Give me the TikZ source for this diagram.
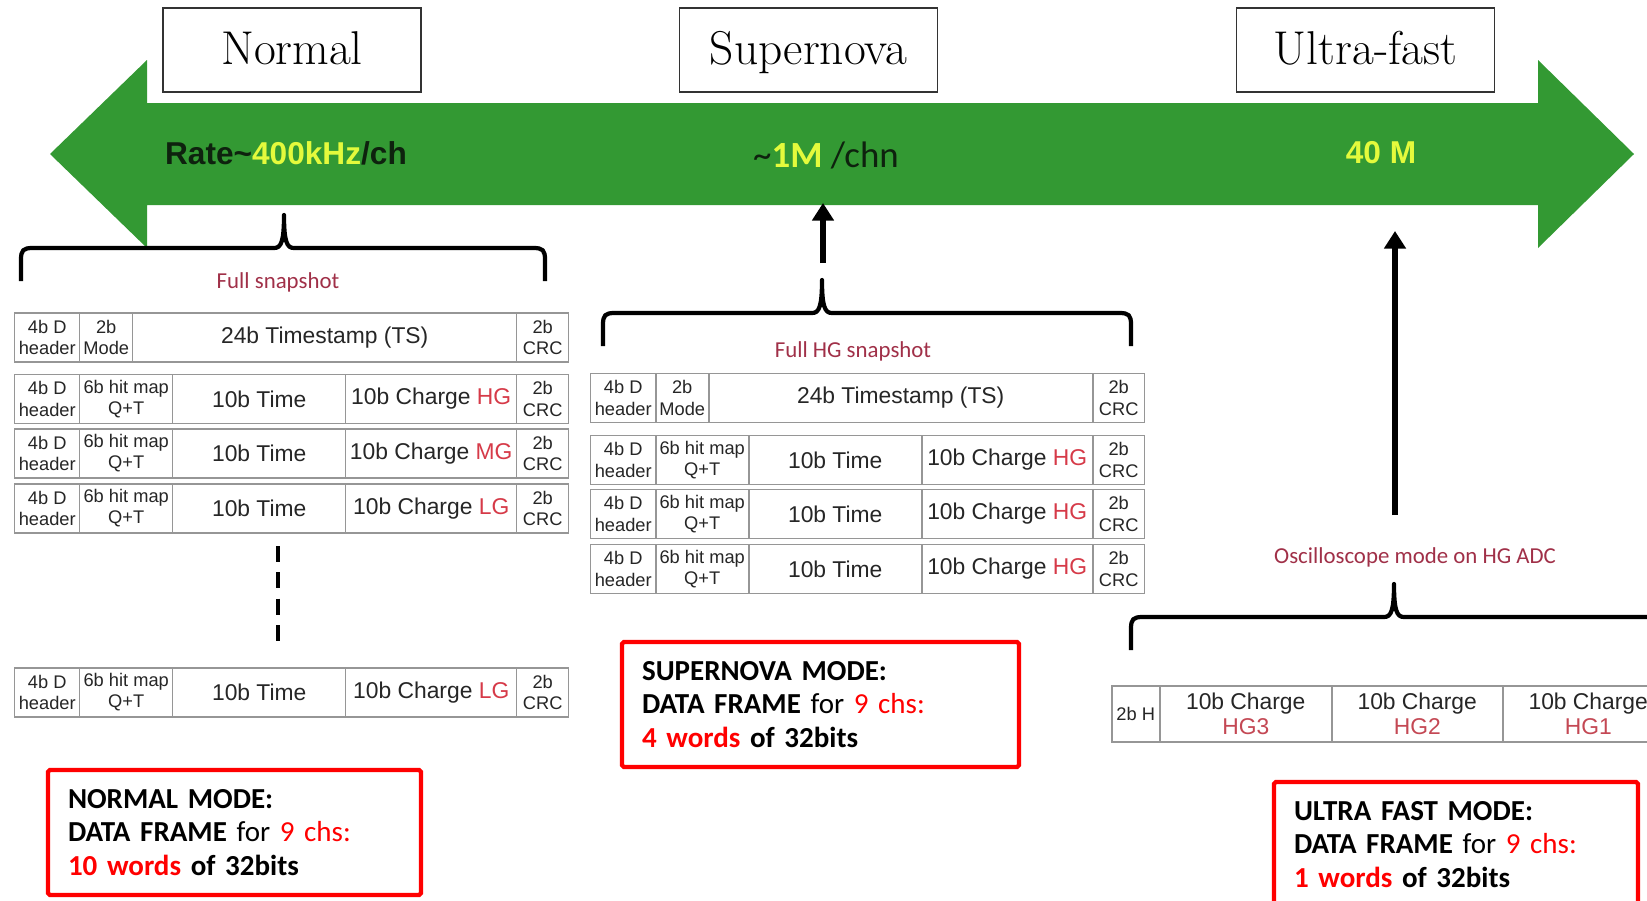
\documentclass[tikz,border=0pt]{standalone}
\usepackage{fontspec}
\newfontfamily\arialfont{Liberation Sans}
\newfontfamily\calibrifont{Carlito}
\usetikzlibrary{arrows.meta,positioning,calc}
\definecolor{arrowgreen}{RGB}{51,153,51}
\definecolor{rateyellow}{RGB}{228,250,60}
\definecolor{ratedark}{RGB}{14,34,14}
\definecolor{gainred}{RGB}{214,58,72}
\definecolor{hgred}{RGB}{196,72,84}
\definecolor{labelred}{RGB}{160,48,72}
\definecolor{cellgray}{RGB}{150,150,150}
\newcommand{\curly}[4]{% left end, spike, right end, height of the bar
  \draw[brace] (#1,#4+33) -- (#1,#4+12) .. controls (#1,#4+2) and (#1+2,#4) .. (#1+12,#4)
    -- (#2-10,#4) .. controls (#2-3,#4) and (#2,#4-6) .. (#2,#4-33)
    .. controls (#2,#4-6) and (#2+3,#4) .. (#2+10,#4)
    -- (#3-12,#4) .. controls (#3-2,#4) and (#3,#4+2) .. (#3,#4+12) -- (#3,#4+33);}
\tikzset{
  modebox/.style={draw=black!80, line width=0.9pt, minimum width=5.16cm, minimum height=1.68cm, text height=21pt, text depth=4pt, font=\fontsize{27}{30}\selectfont},
  rate/.style={font=\arialfont\bfseries\fontsize{18}{20}\selectfont, text=ratedark},
  cell/.style={draw=cellgray, line width=0.85pt, fill=white, inner sep=0pt, minimum height=0.98cm, anchor=west, align=center, text=black!85, font=\arialfont\fontsize{13}{15}\selectfont},
  smallcell/.style={cell, font=\arialfont\fontsize{10.4}{12}\selectfont},
  snaplabel/.style={text=labelred, font=\calibrifont\fontsize{13}{15}\selectfont},
  framebox/.style={draw=red, line width=2.4pt, rounded corners=1pt, align=left, inner xsep=0.4cm, inner ysep=0pt, font=\calibrifont\fontsize{16.5}{19.3}\selectfont},
  uparrow/.style={line width=3.2pt, -{Triangle[length=10pt,width=12pt]}},
  brace/.style={line width=2.4pt, line join=round},
  dotline/.style={line width=2.8pt, dash pattern=on 9pt off 6pt},
  pics/tsrow/.style={code={
    \node[smallcell, minimum width=1.30cm] (-hd) at (0,0) {4b D\\header};
    \node[smallcell, minimum width=1.06cm] (-mode) at (65,0) {2b\\Mode};
    \node[cell, minimum width=7.68cm] (-ts) at (118,0) {24b Timestamp (TS)};
    \node[smallcell, minimum width=1.04cm] (-crc) at (502,0) {2b\\CRC};
  }},
  pics/hitrow/.style={code={
    \node[smallcell, minimum width=1.30cm] (-hd) at (0,0) {4b D\\header};
    \node[smallcell, minimum width=1.86cm] (-hit) at (65,0) {6b hit map\\Q+T};
    \node[cell, minimum width=3.46cm] (-time) at (158,0) {10b Time};
    \node[cell, minimum width=3.42cm] (-charge) at (331,0) {10b Charge \textcolor{gainred}{#1}};
    \node[smallcell, minimum width=1.04cm] (-crc) at (502,0) {2b\\CRC};
  }}
}

\begin{document}
\begin{tikzpicture}[x=0.02cm,y=-0.02cm]
  \useasboundingbox (0,0) rectangle (1647,900);
  \clip (0,0) rectangle (1647,900);

  % rate axis
  \fill[arrowgreen] (50,154) -- (147,60) -- (147,103) -- (1538,103) -- (1538,60) -- (1634,154)
    -- (1538,248) -- (1538,205) -- (147,205) -- (147,248) -- cycle;
  \node[modebox] (normal) at (292,50) {Normal};
  \node[modebox] (supernova) at (808.5,50) {Supernova};
  \node[modebox] (ultra) at (1365.5,50) {Ultra-fast};
  \node[rate] (nrate) at (286,153) {Rate{\char"7E}\textcolor{rateyellow}{400kHz}/ch};
  \node[font=\calibrifont\fontsize{21}{24}\selectfont, text=ratedark] (snrate) at (826,155) {{\char"7E}\textbf{\textcolor{rateyellow}{1M}} /chn};
  \node[rate, text=rateyellow] (ufrate) at (1381,153) {40 M};

  % normal mode
  \curly{21}{284}{545}{248}
  \node[snaplabel] (nlabel) at (278,282) {Full snapshot};
  \pic (n1) at (14,337.5) {tsrow};
  \pic (n2) at (14,399) {hitrow=HG};
  \pic (n3) at (14,453.5) {hitrow=MG};
  \pic (n4) at (14,508.5) {hitrow=LG};
  \coordinate (dottop) at (278,546);
  \coordinate (dotend) at (278,651);
  \draw[dotline] (dottop) -- (dotend);
  \pic (n5) at (14,692.5) {hitrow=LG};
  \node[framebox, text width=6.66cm, minimum height=2.5cm] (nframe) at (234.5,832.5)
    {\textbf{NORMAL MODE:}\\\textbf{DATA FRAME} for \textcolor{red}{9 chs:}\\\textcolor{red}{\textbf{10 words}} \textbf{of 32bits}};

  % supernova mode
  \coordinate (sntail) at (823,263);
  \coordinate (snhead) at (823,203);
  \draw[uparrow] (sntail) -- (snhead);
  \curly{603}{822}{1131}{313}
  \node[snaplabel] (snlabel) at (853,351) {Full HG snapshot};
  \pic (s1) at (590,398) {tsrow};
  \pic (s2) at (590,460) {hitrow=HG};
  \pic (s3) at (590,514) {hitrow=HG};
  \pic (s4) at (590,569) {hitrow=HG};
  \node[framebox, text width=7.14cm, minimum height=2.5cm] (snframe) at (820.5,704.5)
    {\textbf{SUPERNOVA MODE:}\\\textbf{DATA FRAME} for \textcolor{red}{9 chs:}\\\textcolor{red}{\textbf{4 words}} \textbf{of 32bits}};

  % ultra-fast mode
  \coordinate (uftail) at (1395,515);
  \coordinate (ufhead) at (1395,231);
  \draw[uparrow] (uftail) -- (ufhead);
  \node[snaplabel] (osc) at (1415,557) {Oscilloscope mode on HG ADC};
  \curly{1131}{1394}{1657}{617}
  \node[smallcell, minimum width=0.96cm, minimum height=1.12cm] (uhd) at (1111,714) {2b H};
  \node[cell, minimum width=3.44cm, minimum height=1.12cm, font=\arialfont\fontsize{13}{14}\selectfont] (uhg3) at (1159,714) {10b Charge\\\textcolor{hgred}{HG3}};
  \node[cell, minimum width=3.42cm, minimum height=1.12cm, font=\arialfont\fontsize{13}{14}\selectfont] (uhg2) at (1331,714) {10b Charge\\\textcolor{hgred}{HG2}};
  \node[cell, minimum width=3.42cm, minimum height=1.12cm, font=\arialfont\fontsize{13}{14}\selectfont] (uhg1) at (1502,714) {10b Charge\\\textcolor{hgred}{HG1}};
  \node[framebox, text width=6.48cm, minimum height=2.5cm] (ufframe) at (1456,844.5)
    {\textbf{ULTRA FAST MODE:}\\\textbf{DATA FRAME} for \textcolor{red}{9 chs:}\\\textcolor{red}{\textbf{1 words}} \textbf{of 32bits}};
\end{tikzpicture}
\end{document}
